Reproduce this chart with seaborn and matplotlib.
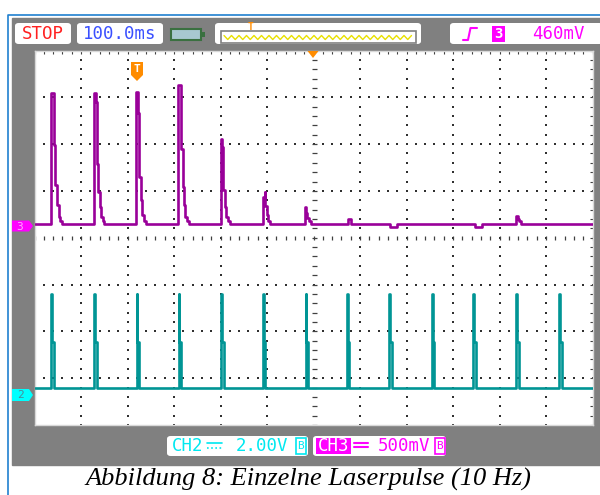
import numpy as np
import pandas as pd
import matplotlib
matplotlib.use('Agg')
import matplotlib.pyplot as plt
import seaborn as sb
from matplotlib.patches import Rectangle, FancyBboxPatch, Polygon
from matplotlib.lines import Line2D

# Oszilloskop: 100 ms/div (12 div), CH3 500 mV/div, CH2 2.00 V/div
# Zeit in ms, 0 = Bildschirmmitte

# CH3 (Laserpulse): Startzeit jedes Ereignisses und Stufenprofil (dt in ms, Spannung in V)
ch3_start = [-564, -471, -381, -291, -198, -108, -18, 74, 165, 348, 436]
ch3_dt = [
    [0, 5.0, 8.6, 13.0, 16.6, 19.4, 23.7],
    [0, 3.6, 5.8, 8.6, 10.8, 14.4, 17.9, 21.5],
    [0, 2.8, 5.6, 9.3, 12.0, 15.7, 20.0],
    [0, 7.1, 9.9, 12.0, 15.0, 17.9, 22.2],
    [0, 2.2, 4.3, 7.1, 10.8, 15.0, 19.4],
    [0, 3.0, 4.3, 7.3, 10.0, 14.4],
    [0, 2.2, 4.3, 8.6, 13.0],
    [0, 6.5],
    [0, 15.0],
    [0, 15.0],
    [0, 3.2, 6.5, 9.7],
]
ch3_v = [
    [1.40, 0.85, 0.42, 0.21, 0.08, 0.03, 0.0],
    [1.40, 1.30, 0.64, 0.34, 0.18, 0.08, 0.03, 0.0],
    [1.41, 1.19, 0.50, 0.26, 0.10, 0.03, 0.0],
    [1.49, 0.80, 0.40, 0.21, 0.08, 0.03, 0.0],
    [0.91, 0.82, 0.37, 0.18, 0.08, 0.03, 0.0],
    [0.29, 0.34, 0.19, 0.10, 0.03, 0.0],
    [0.18, 0.12, 0.07, 0.03, 0.0],
    [0.06, 0.0],
    [-0.03, 0.0],
    [-0.03, 0.0],
    [0.09, 0.06, 0.03, 0.0],
]

# CH2 (Triggersignal 10 Hz): Startzeiten der Pulse
ch2_start = [-564, -471, -380, -290, -198, -109, -17, 72, 163, 255, 344, 436, 529]
ch2_dt = [0, 1.5, 5.0]
ch2_v = [4.32, 2.27, 0.30]
ch2_base = 0.30

ch3_scale = 0.5   # V/div
ch2_scale = 2.0   # V/div
ch3_pos = 0.29    # div
ch2_pos = -3.36   # div

W, H = 600, 495


def fx(x):
    return x / W


def fy(y):
    return 1 - y / H


# Spuren zusammenbauen
t3, v3 = [-600], [0.0]
for s, dts, vs in zip(ch3_start, ch3_dt, ch3_v):
    for d, v in zip(dts, vs):
        t3.append(s + d)
        v3.append(v)
t3.append(600)
v3.append(0.0)
df3 = pd.DataFrame({'t': t3, 'div': ch3_pos + np.array(v3) / ch3_scale})

t2, v2 = [-600], [ch2_base]
for s in ch2_start:
    for d, v in zip(ch2_dt, ch2_v):
        t2.append(s + d)
        v2.append(v)
t2.append(600)
v2.append(ch2_base)
df2 = pd.DataFrame({'t': t2, 'div': ch2_pos + np.array(v2) / ch2_scale})

sb.set_style('white')
plt.rcParams['font.family'] = ['DejaVu Sans Mono', 'DejaVu Sans']

fig = plt.figure(figsize=(6, 4.95), dpi=100)

# grauer Hintergrund und blauer Rahmen
fig.add_artist(Rectangle((fx(12), fy(465)), fx(600 - 12), (465 - 18) / H,
                         transform=fig.transFigure, color='#808080', zorder=-10))
fig.add_artist(Line2D([fx(8), fx(8), fx(600)], [fy(495), fy(14.5), fy(14.5)],
                      transform=fig.transFigure, color='#2080d0', lw=1.2, zorder=-5))

ax = fig.add_axes([fx(34.5), fy(425), (592.5 - 34.5) / W, (425 - 50.5) / H])
ax.set_facecolor('white')
ax.set_xlim(-600, 600)
ax.set_ylim(-4, 4)

# Raster: Punkte auf den Teilungslinien
gx = [x for x in range(-500, 501, 100) if x != 0]
gy = [y for y in range(-3, 4) if y != 0]
dots_y = np.arange(-4, 4.01, 0.2)
dots_x = np.arange(-600, 601, 20)
for x in gx:
    ax.scatter(np.full(len(dots_y), x), dots_y, s=1.6, marker='s', color='#303030', lw=0, zorder=1)
for y in gy:
    ax.scatter(dots_x, np.full(len(dots_x), y), s=1.6, marker='s', color='#303030', lw=0, zorder=1)
# Mittellinien mit Strichen
ax.plot(dots_x, np.zeros(len(dots_x)), ls='none', marker='|', ms=3.2, mew=0.9, color='#404040', zorder=1)
ax.plot(np.zeros(len(dots_y)), dots_y, ls='none', marker='_', ms=3.6, mew=0.9, color='#404040', zorder=1)

ax.set_xticks(dots_x)
ax.set_yticks(dots_y)
ax.tick_params(direction='in', length=2.5, width=0.8, color='#404040',
               top=True, right=True, labelbottom=False, labelleft=False)
for sp in ax.spines.values():
    sp.set_color('#d8d8d8')
    sp.set_linewidth(1.0)

# Spuren
sb.lineplot(data=df2, x='t', y='div', drawstyle='steps-post', estimator=None, sort=False,
            color='#009595', linewidth=1.9, ax=ax, zorder=3)
sb.lineplot(data=df3, x='t', y='div', drawstyle='steps-post', estimator=None, sort=False,
            color='#990099', linewidth=1.9, ax=ax, zorder=4)
ax.set_xlabel('')
ax.set_ylabel('')


def poly(pts, color, z=5):
    fig.add_artist(Polygon([(fx(a), fy(b)) for a, b in pts], closed=True,
                           transform=fig.transFigure, facecolor=color, edgecolor='none', zorder=z))


def box(x0, x1, y0, y1, face='white', edge='none', lw=0, rounded=True, z=2):
    if rounded:
        p = FancyBboxPatch((fx(x0), fy(y1)), fx(x1 - x0), (y1 - y0) / H,
                           boxstyle='round,pad=0,rounding_size=0.006', transform=fig.transFigure,
                           facecolor=face, edgecolor=edge, lw=lw, zorder=z)
    else:
        p = Rectangle((fx(x0), fy(y1)), fx(x1 - x0), (y1 - y0) / H, transform=fig.transFigure,
                      facecolor=face, edgecolor=edge, lw=lw, zorder=z)
    fig.add_artist(p)


def txt(x, y, s, color, size=12.5, ha='center', **kw):
    fig.text(fx(x), fy(y), s, color=color, fontsize=size, ha=ha, va='center', zorder=8, **kw)


def seg(xs, ys, color, lw=1.2, ls='-'):
    fig.add_artist(Line2D([fx(a) for a in xs], [fy(b) for b in ys], transform=fig.transFigure,
                          color=color, lw=lw, ls=ls, zorder=6))


# Kanalmarker links
poly([(12, 220.5), (29, 220.5), (33, 226), (29, 231.5), (12, 231.5)], '#ff00ff')
txt(20, 226.5, '3', '#ffa8ff', size=8)
poly([(12, 389), (29, 389), (33, 395), (29, 401), (12, 401)], '#00ffff')
txt(20, 395.5, '2', '#4a8a9a', size=8)

# Triggermarker
poly([(131, 62), (143, 62), (143, 75), (137, 81), (131, 75)], '#ff8c00')
txt(137, 69.5, 'T', 'white', size=8, fontweight='bold')
poly([(307.5, 51), (318.5, 51), (313, 58)], '#ff8c00')

# obere Statusleiste
box(15, 71, 23, 44)
txt(43, 34, 'STOP', '#ff2020')
box(77, 163, 23, 44)
txt(120, 34, '100.0ms', '#3a50ff')
box(171, 201, 29, 40, face='#a8c8d0', edge='#3a7040', lw=1.5, rounded=False)
box(201, 205, 32, 37, face='#3a7040', rounded=False)
box(215, 421, 23, 44)
box(221, 416, 31, 43, face='white', edge='#808080', lw=1.2, rounded=False)
zx = np.arange(224, 413, 3.75)
zy = np.where(np.arange(len(zx)) % 2 == 0, 35.5, 39.5)
seg(zx, zy, '#e8e000', lw=1.0)
txt(251, 26.5, 'T', '#ff8c00', size=7, fontweight='bold')
box(450, 603, 23, 44)
seg([463, 468, 470.5, 477], [40, 40, 28, 28], '#ff00ff', lw=1.5)
box(492, 505, 26, 42, face='#ff00ff', rounded=False)
txt(498.5, 34, '3', 'white', size=10, fontweight='bold')
txt(558, 34, '460mV', '#ff00ff')

# untere Kanalanzeige
box(167, 308, 436, 456)
txt(172, 446, 'CH2', '#00e8f0', ha='left')
seg([207, 222], [443, 443], '#00e8f0', lw=1.2)
seg([207, 222], [448, 448], '#00e8f0', lw=1.2, ls=(0, (1, 1.5)))
txt(236, 446, '2.00V', '#00e8f0', ha='left')
box(296, 306, 438, 454, face='white', edge='#00e8f0', lw=1.2, rounded=False)
txt(301, 446, 'B', '#00e8f0', size=8)
box(313, 446, 436, 456)
box(316, 351, 438, 454, face='#ff00ff', rounded=False)
txt(333.5, 446, 'CH3', 'white')
seg([354, 368], [443, 443], '#ff00ff', lw=1.5)
seg([354, 368], [447, 447], '#ff00ff', lw=1.5)
txt(378, 446, '500mV', '#ff00ff', ha='left')
box(435, 445, 438, 454, face='white', edge='#ff00ff', lw=1.2, rounded=False)
txt(440, 446, 'B', '#ff00ff', size=8)

# Bildunterschrift
fig.text(fx(308), fy(479), 'Abbildung 8: Einzelne Laserpulse (10 Hz)', family='Liberation Serif',
         style='italic', fontsize=19, ha='center', va='center', color='black')

fig.savefig('out.png', dpi=100)
